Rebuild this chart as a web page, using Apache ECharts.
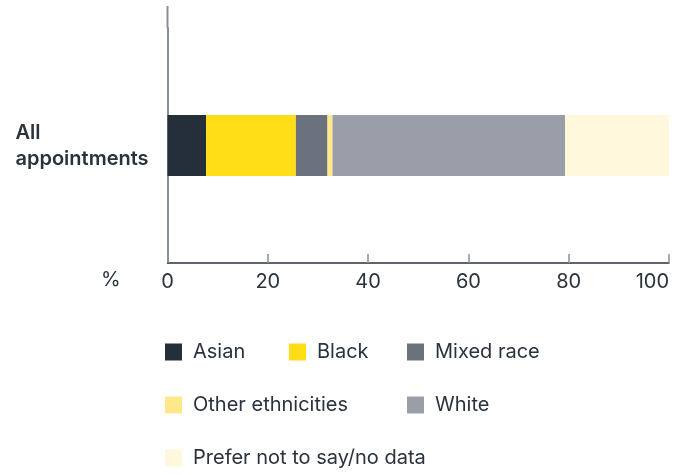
<!DOCTYPE html>
<html><head><meta charset="utf-8">
<script src="https://cdn.jsdelivr.net/npm/echarts@6/dist/echarts.min.js"></script>
<style>html,body{margin:0;padding:0;background:#fff}#c{width:677px;height:475px}</style>
</head><body><div id="c"></div>
<script>
const categories = ['All\nappointments'];
const seriesNames = ['Asian', 'Black', 'Mixed race', 'Other ethnicities', 'White', 'Prefer not to say/no data'];
const asian = [7.7];
const black = [17.9];
const mixed = [6.3];
const other = [1.0];
const white = [46.4];
const preferNot = [20.7];
const xTicks = [0, 20, 40, 60, 80, 100];

const values = [asian, black, mixed, other, white, preferNot];
const colors = ['#252f3a', '#ffdd17', '#6c727d', '#ffe88a', '#9a9ea8', '#fff8dc'];
const txt = '#2a323c';
const font = 'Inter';
const fs = 20;

const legendPos = [[165, 342], [289, 342], [407, 342], [165, 395], [407, 395], [165, 448]];

const chart = echarts.init(document.getElementById('c'), null, {renderer: 'canvas'});
chart.setOption({
  animation: false,
  textStyle: {fontFamily: font},
  title: {text: '%', left: 101, top: 270, padding: 0, textStyle: {fontSize: fs, fontWeight: 'normal', color: txt, fontFamily: font}},
  legend: seriesNames.map((n, i) => ({
    data: [n], left: legendPos[i][0], top: legendPos[i][1], padding: 0, itemWidth: 17, itemHeight: 17, itemGap: 0,
    icon: 'rect', textStyle: {fontSize: fs, color: txt, fontFamily: font, padding: [0, 0, 0, 6]}, selectedMode: false
  })),
  grid: {left: 167.5, right: 8, top: 28, bottom: 212, containLabel: false, outerBoundsMode: 'none'},
  xAxis: {
    type: 'value', min: 0, max: 100, interval: 20,
    axisLine: {show: true, lineStyle: {color: txt, width: 1.5}},
    axisTick: {show: true, inside: true, length: 9, lineStyle: {color: '#8a9099', width: 1.5}},
    axisLabel: {color: txt, fontSize: fs, margin: 9, fontFamily: font, alignMaxLabel: 'right',
      formatter: v => xTicks.includes(v) ? String(v) : ''},
    splitLine: {show: false}
  },
  yAxis: {
    type: 'category', data: categories,
    axisLine: {show: true, lineStyle: {color: '#8a9099', width: 2}},
    axisTick: {show: false},
    axisLabel: {align: 'left', margin: 152, color: txt, fontSize: fs, fontWeight: 600, lineHeight: 26, fontFamily: font}
  },
  graphic: [{type: 'line', shape: {x1: 167.5, y1: 6, x2: 167.5, y2: 28}, style: {stroke: '#8a9099', lineWidth: 2}}],
  series: seriesNames.map((n, i) => ({
    name: n, type: 'bar', stack: 'total', data: values[i], barWidth: 61,
    itemStyle: {color: colors[i]}
  }))
});
</script></body></html>
